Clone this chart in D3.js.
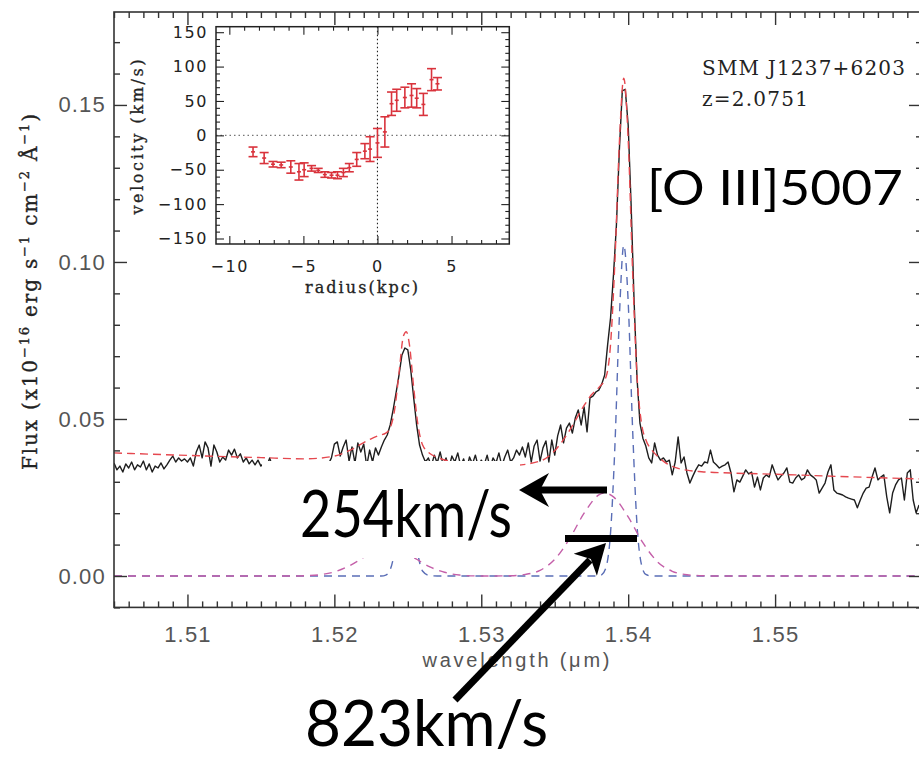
<!DOCTYPE html>
<html>
<head>
<meta charset="utf-8">
<script src="https://cdn.jsdelivr.net/npm/d3@7/dist/d3.min.js"></script>
<style>
  body { margin: 0; background: #fff; }
  svg { display: block; }
</style>
</head>
<body>
<svg id="chart" width="919" height="759"></svg>
<script>
// ---- Observed spectrum (wavelength in micron, flux in 1e-16 erg/s/cm2/A) ----
const specWave = [
  1.5050,1.5052,1.5054,1.5056,1.5058,1.5060,1.5062,1.5064,1.5066,1.5068,
  1.5070,1.5072,1.5074,1.5076,1.5078,1.5080,1.5082,1.5084,1.5086,1.5088,
  1.5090,1.5092,1.5094,1.5096,1.5098,1.5100,1.5102,1.5104,1.5106,1.5108,
  1.5110,1.5112,1.5114,1.5116,1.5118,1.5120,1.5122,1.5124,1.5126,1.5128,
  1.5130,1.5132,1.5134,1.5136,1.5138,1.5140,1.5142,1.5144,1.5146,1.5148,
  1.5150,1.5152,1.5154,1.5156,1.5158,1.5160,1.5162,1.5164,1.5166,1.5168,
  1.5170,1.5172,1.5174,1.5176,1.5178,1.5180,1.5182,1.5184,1.5186,1.5188,
  1.5190,1.5192,1.5194,1.5196,1.5198,1.5200,1.5202,1.5204,1.5206,1.5208,
  1.5210,1.5212,1.5214,1.5216,1.5218,1.5220,1.5222,1.5224,1.5226,1.5228,
  1.5230,1.5232,1.5234,1.5236,1.5238,1.5240,1.5242,1.5244,1.5246,1.5248,
  1.5250,1.5252,1.5254,1.5256,1.5258,1.5260,1.5262,1.5264,1.5266,1.5268,
  1.5270,1.5272,1.5274,1.5276,1.5278,1.5280,1.5282,1.5284,1.5286,1.5288,
  1.5290,1.5292,1.5294,1.5296,1.5298,1.5300,1.5302,1.5304,1.5306,1.5308,
  1.5310,1.5312,1.5314,1.5316,1.5318,1.5320,1.5322,1.5324,1.5326,1.5328,
  1.5330,1.5332,1.5334,1.5336,1.5338,1.5340,1.5342,1.5344,1.5346,1.5348,
  1.5350,1.5352,1.5354,1.5356,1.5358,1.5360,1.5362,1.5364,1.5366,1.5368,
  1.5370,1.5372,1.5374,1.5376,1.5378,1.5380,1.5382,1.5384,1.5386,1.5388,
  1.5390,1.5392,1.5394,1.5396,1.5398,1.5400,1.5402,1.5404,1.5406,1.5408,
  1.5410,1.5412,1.5414,1.5416,1.5418,1.5420,1.5422,1.5424,1.5426,1.5428,
  1.5430,1.5432,1.5434,1.5436,1.5438,1.5440,1.5442,1.5444,1.5446,1.5448,
  1.5450,1.5452,1.5454,1.5456,1.5458,1.5460,1.5462,1.5464,1.5466,1.5468,
  1.5470,1.5472,1.5474,1.5476,1.5478,1.5480,1.5482,1.5484,1.5486,1.5488,
  1.5490,1.5492,1.5494,1.5496,1.5498,1.5500,1.5502,1.5504,1.5506,1.5508,
  1.5510,1.5512,1.5514,1.5516,1.5518,1.5520,1.5522,1.5524,1.5526,1.5528,
  1.5530,1.5532,1.5534,1.5536,1.5538,1.5540,1.5542,1.5544,1.5546,1.5548,
  1.5550,1.5552,1.5554,1.5556,1.5558,1.5560,1.5562,1.5564,1.5566,1.5568,
  1.5570,1.5572,1.5574,1.5576,1.5578,1.5580,1.5582,1.5584,1.5586,1.5588,
  1.5590,1.5592,1.5594,1.5596,1.5598
];
const specFlux = [
  0.0360,0.0338,0.0350,0.0331,0.0357,0.0344,0.0363,0.0338,0.0354,0.0347,
  0.0366,0.0338,0.0357,0.0331,0.0350,0.0344,0.0360,0.0341,0.0354,0.0369,
  0.0382,0.0363,0.0376,0.0366,0.0373,0.0363,0.0376,0.0350,0.0395,0.0417,
  0.0376,0.0427,0.0408,0.0350,0.0417,0.0395,0.0363,0.0379,0.0369,0.0401,
  0.0385,0.0404,0.0376,0.0389,0.0363,0.0376,0.0357,0.0369,0.0354,0.0369,
  0.0350,0.0360,0.0350,0.0376,0.0344,0.0354,0.0338,0.0357,0.0347,0.0363,
  0.0341,0.0354,0.0344,0.0360,0.0350,0.0338,0.0357,0.0347,0.0360,0.0344,
  0.0354,0.0363,0.0347,0.0357,0.0376,0.0420,0.0427,0.0382,0.0411,0.0433,
  0.0366,0.0411,0.0360,0.0424,0.0395,0.0420,0.0350,0.0401,0.0363,0.0408,
  0.0385,0.0411,0.0433,0.0449,0.0481,0.0529,0.0583,0.0640,0.0704,0.0726,
  0.0720,0.0656,0.0567,0.0481,0.0417,0.0385,0.0363,0.0376,0.0350,0.0385,
  0.0360,0.0395,0.0354,0.0376,0.0344,0.0382,0.0363,0.0392,0.0350,0.0373,
  0.0338,0.0379,0.0357,0.0385,0.0347,0.0369,0.0354,0.0385,0.0344,0.0376,
  0.0360,0.0392,0.0350,0.0379,0.0401,0.0363,0.0376,0.0401,0.0385,0.0411,
  0.0379,0.0424,0.0363,0.0414,0.0433,0.0366,0.0408,0.0430,0.0363,0.0433,
  0.0385,0.0446,0.0481,0.0424,0.0471,0.0487,0.0455,0.0503,0.0529,0.0481,
  0.0538,0.0459,0.0567,0.0573,0.0586,0.0592,0.0611,0.0640,0.0736,0.0822,
  0.0959,0.1118,0.1357,0.1545,0.1550,0.1436,0.1182,0.0879,0.0631,0.0487,
  0.0439,0.0414,0.0376,0.0360,0.0424,0.0385,0.0369,0.0376,0.0363,0.0369,
  0.0322,0.0363,0.0443,0.0360,0.0379,0.0328,0.0296,0.0318,0.0338,0.0354,
  0.0350,0.0363,0.0360,0.0401,0.0363,0.0354,0.0344,0.0350,0.0354,0.0363,
  0.0328,0.0268,0.0306,0.0299,0.0318,0.0338,0.0325,0.0331,0.0283,0.0315,
  0.0274,0.0312,0.0322,0.0315,0.0354,0.0328,0.0306,0.0318,0.0328,0.0344,
  0.0299,0.0296,0.0312,0.0322,0.0306,0.0312,0.0338,0.0322,0.0315,0.0306,
  0.0264,0.0280,0.0296,0.0331,0.0354,0.0274,0.0264,0.0261,0.0258,0.0252,
  0.0248,0.0245,0.0242,0.0217,0.0242,0.0264,0.0280,0.0283,0.0315,0.0344,
  0.0306,0.0315,0.0322,0.0252,0.0201,0.0264,0.0290,0.0306,0.0312,0.0242,
  0.0328,0.0338,0.0242,0.0201,0.0226
];

// ---- Total fit (continuum + narrow + broad [O III] 4959/5007) ----
const fitWave = [1.505,1.510,1.515,1.518,1.520,1.521,1.522,1.5225,1.523,1.5235,1.5238,1.5241,1.5244,1.5247,1.5249,1.5251,1.5254,1.5257,1.526,1.5265,1.527,1.528,1.529,1.530,1.532,1.534,1.535,1.536,1.537,1.5375,1.538,1.5385,1.5388,1.5391,1.5394,1.5397,1.5400,1.5403,1.5406,1.5409,1.5412,1.5416,1.542,1.5425,1.543,1.544,1.545,1.547,1.550,1.555,1.560];
const fitFlux = [0.0392,0.0384,0.0377,0.0373,0.0382,0.0399,0.0425,0.0437,0.0447,0.0455,0.0472,0.0529,0.0646,0.0764,0.0778,0.0740,0.0600,0.0478,0.0418,0.0390,0.0378,0.0364,0.0357,0.0354,0.0352,0.0366,0.0399,0.0463,0.0543,0.0577,0.0600,0.0635,0.0738,0.1006,0.1380,0.1585,0.1390,0.0971,0.0639,0.0488,0.0434,0.0402,0.0381,0.0362,0.0349,0.0337,0.0332,0.0328,0.0324,0.0316,0.0309];

// ---- Narrow components ----
const narrowWave = [1.505,1.5232,1.5235,1.5238,1.5241,1.5244,1.5247,1.5249,1.5251,1.5254,1.5257,1.526,1.5265,1.527,1.538,1.5382,1.5385,1.5388,1.5391,1.5394,1.5397,1.5400,1.5403,1.5406,1.5409,1.5412,1.5416,1.560];
const narrowFlux = [0,0,0.0003,0.0020,0.0080,0.0201,0.0325,0.0351,0.0311,0.0180,0.0067,0.0016,0.0001,0,0,0.0004,0.0029,0.0138,0.0418,0.0824,0.1053,0.0873,0.0469,0.0164,0.0037,0.0005,0,0];

// ---- Broad components ----
const broadWave = [1.505,1.517,1.518,1.519,1.520,1.521,1.522,1.523,1.5237,1.5245,1.5255,1.5265,1.5275,1.5285,1.530,1.532,1.533,1.534,1.535,1.536,1.537,1.538,1.5384,1.539,1.540,1.541,1.542,1.543,1.544,1.545,1.546,1.560];
const broadFlux = [0,0,0.0001,0.0004,0.0013,0.0032,0.0059,0.0082,0.0088,0.0081,0.0056,0.0029,0.0012,0.0003,0,0.0001,0.0005,0.0018,0.0053,0.0118,0.0200,0.0258,0.0264,0.0252,0.0188,0.0106,0.0045,0.0015,0.0004,0.0001,0,0];

// ---- Axis ticks ----
const xTickValues = [1.51, 1.52, 1.53, 1.54, 1.55];
const yTickValues = [0.00, 0.05, 0.10, 0.15];

// ---- Velocity curve (inset) ----
const radius   = [-8.4,-7.65,-7.05,-6.5,-5.85,-5.3,-4.95,-4.45,-4.0,-3.55,-3.1,-2.7,-2.3,-1.9,-1.4,-0.85,-0.5,0.0,0.5,0.95,1.3,1.85,2.3,2.65,3.1,3.65,4.05];
const velocity = [-24,-33,-42,-43,-46,-53,-50,-48,-51,-57,-58,-58,-54,-47,-35,-23,-20,-11,5,46,51,55,58,54,45,81,75];
const velErr   = [7,8,4,4,9,12,10,4,3,4,4,5,6,6,10,11,18,21,22,17,16,15,17,14,16,16,9];
const insetXTickValues = [-10, -5, 0, 5];
const insetYTickValues = [-150, -100, -50, 0, 50, 100, 150];

// =====================================================================
const svg = d3.select("#chart");
const frame = { left: 114, right: 922, top: 12, bottom: 607.4 };

const x = d3.scaleLinear().domain([1.505, 1.56]).range([frame.left, frame.right]);
const y = d3.scaleLinear().domain([-0.01, 0.1796]).range([frame.bottom, frame.top]);

svg.append("rect").attr("width", 919).attr("height", 759).attr("fill", "#fff");

const defs = svg.append("defs");
defs.append("clipPath").attr("id", "plotArea").append("rect")
  .attr("x", frame.left).attr("y", frame.top)
  .attr("width", frame.right - frame.left).attr("height", frame.bottom - frame.top);

const zip = (a, b) => a.map((v, i) => [v, b[i]]);

const plotG = svg.append("g").attr("clip-path", "url(#plotArea)");

const linear = d3.line().x(d => x(d[0])).y(d => y(d[1]));
const smooth = d3.line().x(d => x(d[0])).y(d => y(d[1])).curve(d3.curveMonotoneX);

// observed spectrum
plotG.append("path").datum(zip(specWave, specFlux))
  .attr("d", linear).attr("fill", "none")
  .attr("stroke", "#1e1e1e").attr("stroke-width", 1.4).attr("stroke-linejoin", "round");

// total fit
plotG.append("path").datum(zip(fitWave, fitFlux))
  .attr("d", smooth).attr("fill", "none")
  .attr("stroke", "#e5484f").attr("stroke-width", 1.4).attr("stroke-dasharray", "8,5");

// narrow components
plotG.append("path").datum(zip(narrowWave, narrowFlux))
  .attr("d", smooth).attr("fill", "none")
  .attr("stroke", "#5a6eb6").attr("stroke-width", 1.4).attr("stroke-dasharray", "8,6");

// broad components
plotG.append("path").datum(zip(broadWave, broadFlux))
  .attr("d", smooth).attr("fill", "none")
  .attr("stroke", "#c45fa9").attr("stroke-width", 1.4).attr("stroke-dasharray", "8,6");

// ---- axes ----
const tickFont = "'Liberation Sans', Arial, sans-serif";
function styleTicks(g, labelled) {
  g.select(".domain").remove();
  g.selectAll(".tick line").attr("stroke", "#333").attr("stroke-width", 1.4);
  if (labelled) {
    g.selectAll(".tick text")
      .attr("fill", "#555").attr("font-family", tickFont)
      .attr("font-size", 22).attr("letter-spacing", 1.2);
  } else {
    g.selectAll(".tick text").remove();
  }
}

const xMinor = d3.range(1.505, 1.5601, 0.001).filter(v => Math.abs(v * 100 - Math.round(v * 100)) > 1e-6);
const yMinor = d3.range(-0.01, 0.1796, 0.01).filter(v => Math.abs(v * 20 - Math.round(v * 20)) > 1e-6);

// bottom
svg.append("g").attr("transform", `translate(0,${frame.bottom})`)
  .call(d3.axisBottom(x).tickValues(xTickValues).tickSize(-13).tickSizeOuter(0).tickPadding(19).tickFormat(d3.format(".2f")))
  .call(g => styleTicks(g, true));
svg.append("g").attr("transform", `translate(0,${frame.bottom})`)
  .call(d3.axisBottom(x).tickValues(xMinor).tickSize(-6).tickSizeOuter(0).tickFormat(""))
  .call(g => styleTicks(g, false));
// top
svg.append("g").attr("transform", `translate(0,${frame.top})`)
  .call(d3.axisTop(x).tickValues(xTickValues).tickSize(-13).tickSizeOuter(0).tickFormat(""))
  .call(g => styleTicks(g, false));
svg.append("g").attr("transform", `translate(0,${frame.top})`)
  .call(d3.axisTop(x).tickValues(xMinor).tickSize(-6).tickSizeOuter(0).tickFormat(""))
  .call(g => styleTicks(g, false));
// left
svg.append("g").attr("transform", `translate(${frame.left},0)`)
  .call(d3.axisLeft(y).tickValues(yTickValues).tickSize(-13).tickSizeOuter(0).tickPadding(8).tickFormat(d3.format(".2f")))
  .call(g => styleTicks(g, true));
svg.append("g").attr("transform", `translate(${frame.left},0)`)
  .call(d3.axisLeft(y).tickValues(yMinor).tickSize(-6).tickSizeOuter(0).tickFormat(""))
  .call(g => styleTicks(g, false));
// right
svg.append("g").attr("transform", `translate(${frame.right},0)`)
  .call(d3.axisRight(y).tickValues(yTickValues).tickSize(-13).tickSizeOuter(0).tickFormat(""))
  .call(g => styleTicks(g, false));
svg.append("g").attr("transform", `translate(${frame.right},0)`)
  .call(d3.axisRight(y).tickValues(yMinor).tickSize(-6).tickSizeOuter(0).tickFormat(""))
  .call(g => styleTicks(g, false));

svg.append("rect")
  .attr("x", frame.left).attr("y", frame.top)
  .attr("width", frame.right - frame.left).attr("height", frame.bottom - frame.top)
  .attr("fill", "none").attr("stroke", "#333").attr("stroke-width", 1.6);

// axis titles
svg.append("text")
  .attr("x", 516).attr("y", 667).attr("text-anchor", "middle")
  .attr("font-family", tickFont).attr("font-size", 20).attr("fill", "#555")
  .attr("textLength", 187).attr("lengthAdjust", "spacing")
  .text("wavelength (\u03bcm)");

const serif = "'DejaVu Serif', 'Liberation Serif', serif";
const yTitle = svg.append("text")
  .attr("transform", "translate(37,292) rotate(-90)")
  .attr("text-anchor", "middle")
  .attr("font-family", serif).attr("font-size", 20).attr("fill", "#222")
  .attr("stroke", "#222").attr("stroke-width", 0.35)
  .attr("textLength", 356).attr("lengthAdjust", "spacing");
const titleParts = [["Flux (x10", 0], ["\u221216", 1], [" erg s", 0], ["\u22121", 1], [" cm", 0], ["\u22122", 1], [" \u00c5", 0], ["\u22121", 1], [")", 0]];
let raised = false;
titleParts.forEach(([t, sup]) => {
  const ts = yTitle.append("tspan").text(t);
  if (sup && !raised) { ts.attr("dy", -8).attr("font-size", 13); raised = true; }
  else if (sup) { ts.attr("font-size", 13); }
  else if (!sup && raised) { ts.attr("dy", 8); raised = false; }
});

// object labels
svg.append("text").attr("x", 702).attr("y", 75)
  .attr("font-family", serif).attr("font-size", 20).attr("fill", "#222")
  .attr("textLength", 203).attr("lengthAdjust", "spacing")
  .text("SMM J1237+6203");
svg.append("text").attr("x", 702).attr("y", 106)
  .attr("font-family", serif).attr("font-size", 20).attr("fill", "#222")
  .attr("textLength", 106).attr("lengthAdjust", "spacing")
  .text("z=2.0751");

// ---- annotations ----
const bigFont = "Lato, 'Open Sans', sans-serif";
svg.append("rect").attr("x", 262).attr("y", 461).attr("width", 258).attr("height", 97).attr("fill", "#fff");

svg.append("text").attr("x", 647).attr("y", 205)
  .attr("font-family", bigFont).attr("font-size", 48).attr("fill", "#000")
  .attr("textLength", 256).attr("lengthAdjust", "spacingAndGlyphs")
  .text("[O III]5007");

svg.append("text").attr("x", 300).attr("y", 537)
  .attr("font-family", bigFont).attr("font-size", 66).attr("fill", "#000")
  .attr("textLength", 212).attr("lengthAdjust", "spacingAndGlyphs")
  .text("254km/s");

svg.append("text").attr("x", 305).attr("y", 746)
  .attr("font-family", bigFont).attr("font-size", 63).attr("fill", "#000")
  .attr("textLength", 243).attr("lengthAdjust", "spacingAndGlyphs")
  .text("823km/s");

// arrow to the narrow width
svg.append("line").attr("x1", 607).attr("y1", 490).attr("x2", 536).attr("y2", 490)
  .attr("stroke", "#000").attr("stroke-width", 7);
svg.append("path").attr("d", "M519,490 L549,473 L540,490 L549,507 Z").attr("fill", "#000");
// bar marking the broad width
svg.append("line").attr("x1", 565).attr("y1", 538.5).attr("x2", 637).attr("y2", 538.5)
  .attr("stroke", "#000").attr("stroke-width", 7);
// arrow to the broad width
svg.append("line").attr("x1", 455).attr("y1", 700).attr("x2", 590).attr("y2", 560)
  .attr("stroke", "#000").attr("stroke-width", 7);
svg.append("path").attr("d", "M606,543 L596.9,575.8 L590.8,559 L573.7,553.7 Z").attr("fill", "#000");

// ---- inset: velocity curve ----
const inset = { left: 216, right: 509.3, top: 26.7, bottom: 244 };
const ix = d3.scaleLinear().domain([-10.9, 8.9]).range([inset.left, inset.right]);
const iy = d3.scaleLinear().domain([-158, 158]).range([inset.bottom, inset.top]);
const ig = svg.append("g");

ig.append("rect")
  .attr("x", inset.left).attr("y", inset.top)
  .attr("width", inset.right - inset.left).attr("height", inset.bottom - inset.top)
  .attr("fill", "#fff");

ig.append("line").attr("x1", inset.left).attr("x2", inset.right).attr("y1", iy(0)).attr("y2", iy(0))
  .attr("stroke", "#777").attr("stroke-width", 1.3).attr("stroke-dasharray", "1.5,3");
ig.append("line").attr("x1", ix(0)).attr("x2", ix(0)).attr("y1", inset.top).attr("y2", inset.bottom)
  .attr("stroke", "#222").attr("stroke-width", 1.1).attr("stroke-dasharray", "1.5,2.5");

const insetFont = "'DejaVu Sans', sans-serif";
function styleInset(g, labelled) {
  g.select(".domain").remove();
  g.selectAll(".tick line").attr("stroke", "#222").attr("stroke-width", 1.1);
  if (labelled) {
    g.selectAll(".tick text").attr("fill", "#222").attr("font-family", insetFont)
      .attr("font-size", 16).attr("letter-spacing", 1.6);
  } else g.selectAll(".tick text").remove();
}
const ixMinor = d3.range(-10, 9, 1).filter(v => v % 5 !== 0);
const iyMinor = d3.range(-150, 151, 10).filter(v => v % 50 !== 0);
const minusFmt = d => (d < 0 ? "\u2212" : "") + Math.abs(d);

ig.append("g").attr("transform", `translate(0,${inset.bottom})`)
  .call(d3.axisBottom(ix).tickValues(insetXTickValues).tickSize(-8).tickSizeOuter(0).tickPadding(17).tickFormat(minusFmt))
  .call(g => styleInset(g, true));
ig.append("g").attr("transform", `translate(0,${inset.bottom})`)
  .call(d3.axisBottom(ix).tickValues(ixMinor).tickSize(-4).tickSizeOuter(0).tickFormat(""))
  .call(g => styleInset(g, false));
ig.append("g").attr("transform", `translate(0,${inset.top})`)
  .call(d3.axisTop(ix).tickValues(insetXTickValues).tickSize(-8).tickSizeOuter(0).tickFormat(""))
  .call(g => styleInset(g, false));
ig.append("g").attr("transform", `translate(0,${inset.top})`)
  .call(d3.axisTop(ix).tickValues(ixMinor).tickSize(-4).tickSizeOuter(0).tickFormat(""))
  .call(g => styleInset(g, false));
ig.append("g").attr("transform", `translate(${inset.left},0)`)
  .call(d3.axisLeft(iy).tickValues(insetYTickValues).tickSize(-8).tickSizeOuter(0).tickPadding(8).tickFormat(minusFmt))
  .call(g => styleInset(g, true));
ig.append("g").attr("transform", `translate(${inset.left},0)`)
  .call(d3.axisLeft(iy).tickValues(iyMinor).tickSize(-4).tickSizeOuter(0).tickFormat(""))
  .call(g => styleInset(g, false));
ig.append("g").attr("transform", `translate(${inset.right},0)`)
  .call(d3.axisRight(iy).tickValues(insetYTickValues).tickSize(-8).tickSizeOuter(0).tickFormat(""))
  .call(g => styleInset(g, false));
ig.append("g").attr("transform", `translate(${inset.right},0)`)
  .call(d3.axisRight(iy).tickValues(iyMinor).tickSize(-4).tickSizeOuter(0).tickFormat(""))
  .call(g => styleInset(g, false));

ig.append("rect")
  .attr("x", inset.left).attr("y", inset.top)
  .attr("width", inset.right - inset.left).attr("height", inset.bottom - inset.top)
  .attr("fill", "none").attr("stroke", "#222").attr("stroke-width", 1.5);

// error bars
const vel = radius.map((r, i) => ({ r, v: velocity[i], e: velErr[i] }));
const red = "#d9333c";
const eb = ig.append("g").attr("stroke", red).attr("stroke-width", 1.6).attr("fill", "none");
eb.selectAll("line.bar").data(vel).join("line").attr("class", "bar")
  .attr("x1", d => ix(d.r)).attr("x2", d => ix(d.r))
  .attr("y1", d => iy(d.v - d.e)).attr("y2", d => iy(d.v + d.e));
eb.selectAll("line.top").data(vel).join("line").attr("class", "top")
  .attr("x1", d => ix(d.r) - 4.5).attr("x2", d => ix(d.r) + 4.5)
  .attr("y1", d => iy(d.v + d.e)).attr("y2", d => iy(d.v + d.e));
eb.selectAll("line.bot").data(vel).join("line").attr("class", "bot")
  .attr("x1", d => ix(d.r) - 4.5).attr("x2", d => ix(d.r) + 4.5)
  .attr("y1", d => iy(d.v - d.e)).attr("y2", d => iy(d.v - d.e));
eb.selectAll("line.mid").data(vel).join("line").attr("class", "mid")
  .attr("x1", d => ix(d.r) - 2).attr("x2", d => ix(d.r) + 2)
  .attr("y1", d => iy(d.v)).attr("y2", d => iy(d.v));

ig.append("text").attr("x", 361.5).attr("y", 293).attr("text-anchor", "middle")
  .attr("font-family", serif).attr("font-size", 16).attr("fill", "#222")
  .attr("stroke", "#222").attr("stroke-width", 0.3)
  .attr("textLength", 113).attr("lengthAdjust", "spacing")
  .text("radius(kpc)");
ig.append("text").attr("transform", "translate(143,137) rotate(-90)").attr("text-anchor", "middle")
  .attr("font-family", serif).attr("font-size", 16).attr("fill", "#222")
  .attr("stroke", "#222").attr("stroke-width", 0.3)
  .attr("textLength", 155).attr("lengthAdjust", "spacing")
  .text("velocity (km/s)");
</script>
</body>
</html>
